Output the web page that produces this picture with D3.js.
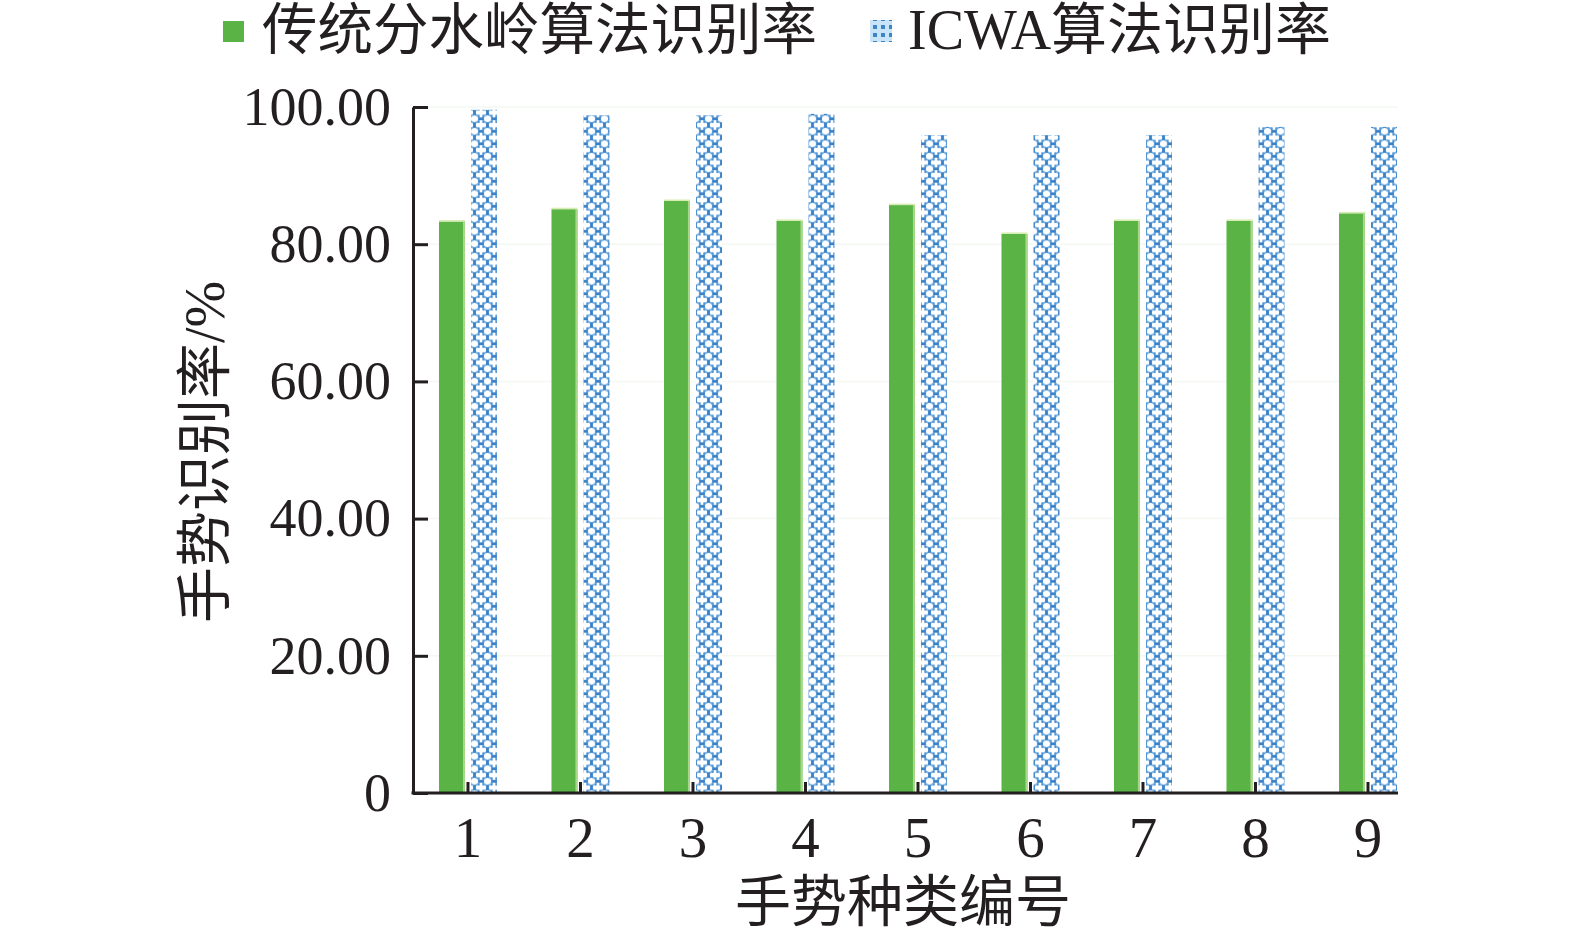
<!DOCTYPE html>
<html>
<head>
<meta charset="utf-8">
<script src="https://cdn.jsdelivr.net/npm/d3@7"></script>
<style>
  html, body { margin: 0; padding: 0; background: #fff; }
  svg { display: block; }
  text { fill: #231f20; }
</style>
</head>
<body>
<svg id="chart" width="1575" height="937"></svg>
<script>
const categories = ["1", "2", "3", "4", "5", "6", "7", "8", "9"];
const seriesNames = ["传统分水岭算法识别率", "ICWA算法识别率"];
const traditionalRates = [83.3, 85.1, 86.3, 83.4, 85.7, 81.5, 83.4, 83.4, 84.5];
const icwaRates = [99.6, 98.8, 98.8, 99.0, 95.9, 95.9, 95.9, 97.1, 97.1];
const yTicks = [0, 20, 40, 60, 80, 100];
const yTickLabels = ["0", "20.00", "40.00", "60.00", "80.00", "100.00"];
const yTitle = "手势识别率/%";
const xTitle = "手势种类编号";

const FONT = "'Liberation Serif', 'Times New Roman', 'Noto Sans CJK SC', serif";
const svg = d3.select("#chart");
const defs = svg.append("defs");

// lattice pattern for ICWA bars
const pat = defs.append("pattern")
  .attr("id", "lattice").attr("patternUnits", "userSpaceOnUse")
  .attr("width", 13).attr("height", 12.5);
pat.append("rect").attr("width", 13).attr("height", 12.5).attr("fill", "#fff");
pat.append("path")
  .attr("d", "M6.5,1.6 L10.8,4 L10.8,8.5 L6.5,10.9 L2.2,8.5 L2.2,4 Z")
  .attr("fill", "none").attr("stroke", "#7db6e6").attr("stroke-width", 1.8);
[[5.1, 0], [5.1, 9.9], [0, 4.9], [10.4, 4.9]].forEach(([px, py]) => {
  pat.append("rect").attr("x", px).attr("y", py).attr("width", 2.8).attr("height", 2.8).attr("fill", "#3a80c6");
});
[[1.4, 2.3], [9.6, 2.3], [1.4, 8.3], [9.6, 8.3]].forEach(([px, py]) => {
  pat.append("rect").attr("x", px).attr("y", py).attr("width", 2).attr("height", 2.2).attr("fill", "#4f92d2");
});

const legPat = defs.append("pattern")
  .attr("id", "legpat").attr("patternUnits", "userSpaceOnUse")
  .attr("width", 8).attr("height", 8);
legPat.append("rect").attr("width", 8).attr("height", 8).attr("fill", "#c9e4f6");
legPat.append("rect").attr("x", 1).attr("y", 1).attr("width", 4).attr("height", 4).attr("fill", "#3d84c6");

const plotL = 413, plotR = 1398, plotT = 107, plotB = 793;
const step = 112.5;

const y = d3.scaleLinear().domain([0, 100]).range([plotB, plotT]);
const x0 = d3.scaleBand().domain(categories)
  .range([plotL, plotL + step * (9 - 0.4844 + 2 * 0.231)])
  .paddingInner(0.4844).paddingOuter(0.231);
const x1 = d3.scaleBand().domain([0, 1]).range([0, x0.bandwidth()]).paddingInner(0.19);

// faint gridlines
svg.append("g").selectAll("line").data(yTicks.slice(1)).join("line")
  .attr("x1", plotL).attr("x2", plotR)
  .attr("y1", d => y(d)).attr("y2", d => y(d))
  .attr("stroke", "#f3f8f1").attr("stroke-width", 1.5);

// bars
const g = svg.append("g");
categories.forEach((c, i) => {
  const gx = x0(c) + x1(0);
  const bw = x1.bandwidth();
  g.append("rect")
    .attr("x", gx).attr("y", y(traditionalRates[i]))
    .attr("width", bw).attr("height", y(0) - y(traditionalRates[i]))
    .attr("fill", "#5ab345");
  g.append("rect")
    .attr("x", gx + bw - 2).attr("y", y(traditionalRates[i]))
    .attr("width", 2).attr("height", y(0) - y(traditionalRates[i]))
    .attr("fill", "#a9d88a");
  g.append("rect")
    .attr("x", gx).attr("y", y(traditionalRates[i]) - 1.5)
    .attr("width", bw).attr("height", 1.5)
    .attr("fill", "#d6ecb0");
  const bx = x0(c) + x1(1);
  g.append("rect")
    .attr("x", bx).attr("y", y(icwaRates[i]))
    .attr("width", bw).attr("height", y(0) - y(icwaRates[i]))
    .attr("fill", "url(#lattice)");
});

// y axis
const yAxis = d3.axisLeft(y).tickValues(yTicks)
  .tickFormat((d, i) => yTickLabels[i]).tickSizeInner(-15).tickSizeOuter(0).tickPadding(24);
const ya = svg.append("g").attr("transform", `translate(${plotL},0)`).call(yAxis);
ya.select(".domain").attr("stroke", "#231f20").attr("stroke-width", 3);
ya.selectAll(".tick line").attr("stroke", "#231f20").attr("stroke-width", 3);
ya.selectAll(".tick text").attr("font-family", FONT).attr("font-size", 54)
  .attr("fill", "#231f20").attr("x", -22);

// x axis
const xAxis = d3.axisBottom(x0).tickSizeInner(-11).tickSizeOuter(0);
const xa = svg.append("g").attr("transform", `translate(0,${plotB})`).call(xAxis);
xa.select(".domain").remove();
xa.append("line").attr("x1", plotL - 1.5).attr("x2", plotR).attr("y1", 0).attr("y2", 0)
  .attr("stroke", "#231f20").attr("stroke-width", 3);
xa.selectAll(".tick line").attr("stroke", "#231f20").attr("stroke-width", 3);
xa.selectAll(".tick text").attr("font-family", FONT).attr("font-size", 57)
  .attr("fill", "#231f20").attr("y", 64).attr("dy", 0);

// axis titles
svg.append("text")
  .attr("transform", `translate(205,452) rotate(-90)`)
  .attr("text-anchor", "middle").attr("dominant-baseline", "central")
  .attr("font-family", FONT).attr("font-size", 56).text(yTitle);
svg.append("text")
  .attr("x", 903).attr("y", 902)
  .attr("text-anchor", "middle").attr("dominant-baseline", "central")
  .attr("font-family", FONT).attr("font-size", 56).text(xTitle);

// legend
const leg = svg.append("g");
leg.append("rect").attr("x", 223).attr("y", 21).attr("width", 21).attr("height", 21).attr("fill", "#5ab345");
leg.append("text").attr("x", 262).attr("y", 30).attr("dominant-baseline", "central")
  .attr("font-family", FONT).attr("font-size", 55.5).text(seriesNames[0]);
leg.append("rect").attr("x", 870).attr("y", 20).attr("width", 22).attr("height", 22).attr("fill", "url(#legpat)");
leg.append("text").attr("x", 908).attr("y", 30).attr("dominant-baseline", "central")
  .attr("font-family", FONT).attr("font-size", 56).text(seriesNames[1]);
</script>
</body>
</html>
